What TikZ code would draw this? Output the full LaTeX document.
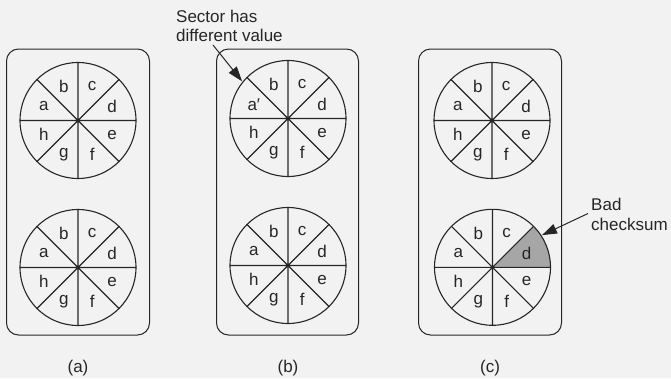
\documentclass[tikz,border=0pt]{standalone}
\usepackage{fontspec}
\setmainfont{Liberation Sans}
\usetikzlibrary{arrows.meta,calc}
\definecolor{bg}{HTML}{F2F2F2}
\definecolor{ink}{HTML}{262626}
\definecolor{shadecol}{HTML}{A6A6A6}
\tikzset{
  panel/.style={draw=ink, line width=1pt, rounded corners=12pt, inner sep=0pt, minimum height=286pt},
  diskshape/.style={circle, minimum size=116pt, inner sep=0pt},
  diskline/.style={draw=ink, line width=1.1pt},
  seclabel/.style={text=ink, inner sep=0pt},
  note/.style={text=ink, inner sep=0pt, align=left, anchor=north west},
  pointer/.style={draw=ink, line width=1pt, -{Triangle[length=15pt,width=10pt]}},
  caption/.style={text=ink, inner sep=0pt}
}
\newcommand\drawdisk[4]{%
  \node[diskshape] (#1) at #2 {};
  #4
  \draw[diskline] (#1.center) circle[radius=58pt];
  \draw[diskline] (#1.north) -- (#1.south) (#1.east) -- (#1.west)
                  (#1.45) -- (#1.225) (#1.135) -- (#1.315);
  \foreach \t/\ang/\n in {d/22.5/d, c/67.5/c, b/112.5/b, #3/157.5/a, h/202.5/h, g/247.5/g, f/292.5/f, e/337.5/e}{
    \node[seclabel] (#1-\n) at ($(#1.center)+(\ang:37pt)$) {\t};
  }
}
\begin{document}
\begin{tikzpicture}[x=1pt, y=-1pt, font=\fontsize{17}{19.5}\selectfont]
\fill[bg] (0,0) rectangle (671,378);
\useasboundingbox (0,0) rectangle (671,378);

% panels
\node[panel, minimum width=143pt] (pa) at (78,192) {};
\node[panel, minimum width=142pt] (pb) at (287.5,192) {};
\node[panel, minimum width=143pt] (pc) at (490,192) {};

% disks
\drawdisk{a1}{(78,120.5)}{a}{}
\drawdisk{a2}{(78,267.5)}{a}{}
\drawdisk{b1}{(288,118.5)}{a′}{}
\drawdisk{b2}{(288,265.5)}{a}{}
\drawdisk{c1}{(492,120.5)}{a}{}
\drawdisk{c2}{(492.5,267.3)}{a}{\fill[shadecol] (c2.center) -- (c2.east) arc[start angle=0, end angle=45, radius=58pt] -- cycle;}

% annotations
\node[note] (nb) at (176,9.5) {Sector has\\different value};
\coordinate (nbs) at (213,45);
\coordinate (nbt) at ($(b1.center)+(141:59pt)$);
\draw[pointer] (nbs) -- (nbt);

\node[note] (nc) at (591,198) {Bad\\checksum};
\coordinate (ncs) at (588,213.5);
\coordinate (nct) at ($(c2.center)+(33:59pt)$);
\draw[pointer] (ncs) -- (nct);

% captions
\node[caption] (ca) at (78,368) {(a)};
\node[caption] (cb) at (288,368) {(b)};
\node[caption] (cc) at (490,368) {(c)};
\end{tikzpicture}
\end{document}
